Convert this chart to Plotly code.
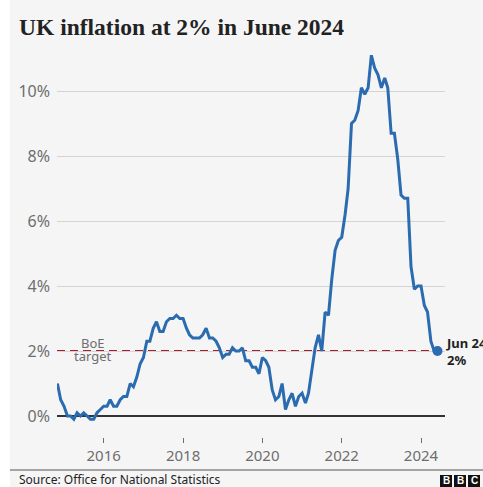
import pandas as pd
import plotly.graph_objects as go

# ---- data (UK CPI annual rate, %, monthly from Nov 2014 to Jun 2024) ----
start_month = "2014-11-01"
cpi = [
    1.0, 0.5,
    0.3, 0.0, 0.0, -0.1, 0.1, 0.0, 0.1, 0.0, -0.1, -0.1, 0.1, 0.2,
    0.3, 0.3, 0.5, 0.3, 0.3, 0.5, 0.6, 0.6, 1.0, 0.9, 1.2, 1.6,
    1.8, 2.3, 2.3, 2.7, 2.9, 2.6, 2.6, 2.9, 3.0, 3.0, 3.1, 3.0,
    3.0, 2.7, 2.5, 2.4, 2.4, 2.4, 2.5, 2.7, 2.4, 2.4, 2.3, 2.1,
    1.8, 1.9, 1.9, 2.1, 2.0, 2.0, 2.1, 1.7, 1.7, 1.5, 1.5, 1.3,
    1.8, 1.7, 1.5, 0.8, 0.5, 0.6, 1.0, 0.2, 0.5, 0.7, 0.3, 0.6,
    0.7, 0.4, 0.7, 1.5, 2.1, 2.5, 2.0, 3.2, 3.1, 4.2, 5.1, 5.4,
    5.5, 6.2, 7.0, 9.0, 9.1, 9.4, 10.1, 9.9, 10.1, 11.1, 10.7, 10.5,
    10.1, 10.4, 10.1, 8.7, 8.7, 7.9, 6.8, 6.7, 6.7, 4.6, 3.9, 4.0,
    4.0, 3.4, 3.2, 2.3, 2.0, 2.0,
]
dates = pd.date_range(start_month, periods=len(cpi), freq="MS")
target = 2.0
y_ticks = [0, 2, 4, 6, 8, 10]
y_tick_labels = ["0%", "2%", "4%", "6%", "8%", "10%"]
end_label = "Jun 24"

title = "UK inflation at 2% in June 2024"
source = "Source: Office for National Statistics"

# ---- layout geometry ----
W, H = 483, 487
L, R, T, B = 57, 38, 42, 50
PW, PH = W - L - R, H - T - B


def px(xp):
    return (xp - L) / PW


def py(yp):
    return (H - B - yp) / PH


BLUE = "#2b6cb0"
RED = "#a81e2a"
GREY = "#6e6e6e"
DARK = "#222222"
FONT = "Noto Sans"

fig = go.Figure()
fig.add_trace(go.Scatter(x=dates, y=cpi, mode="lines",
                         line=dict(color=BLUE, width=3), hoverinfo="skip"))
fig.add_trace(go.Scatter(x=[dates[-1]], y=[cpi[-1]], mode="markers",
                         marker=dict(color=BLUE, size=10), hoverinfo="skip"))

shapes = [
    # left white strip
    dict(type="rect", xref="paper", yref="paper", x0=px(0), x1=px(10),
         y0=py(H), y1=py(0), fillcolor="white", line=dict(width=0), layer="below"),
    # target line
    dict(type="line", xref="paper", yref="y", x0=0, x1=1, y0=target, y1=target,
         line=dict(color=RED, width=2.2, dash="8px,5px"), layer="below"),
    # separator
    dict(type="line", xref="paper", yref="paper", x0=px(10), x1=px(W),
         y0=py(470), y1=py(470), line=dict(color="#555555", width=1)),
]
annotations = [
    dict(text=title, xref="paper", yref="paper", x=px(17), y=py(27),
         xanchor="left", yanchor="middle", showarrow=False,
         font=dict(family="Liberation Serif", size=23.5, color=DARK, weight="bold")),
    dict(text=source, xref="paper", yref="paper", x=px(17), y=py(480),
         xanchor="left", yanchor="middle", showarrow=False,
         font=dict(family=FONT, size=12, color=DARK)),
    dict(text="BoE", xref="paper", yref="paper", x=px(93), y=py(343),
         xanchor="center", yanchor="middle", showarrow=False,
         font=dict(family=FONT, size=13, color=GREY)),
    dict(text="target", xref="paper", yref="paper", x=px(93), y=py(356),
         xanchor="center", yanchor="middle", showarrow=False,
         font=dict(family=FONT, size=13, color=GREY)),
    dict(text=f"<b>{end_label}</b><br><b>{cpi[-1]:g}%</b>", xref="x", yref="y",
         x=dates[-1], y=cpi[-1], xanchor="left", yanchor="middle", xshift=6,
         align="left", showarrow=False,
         font=dict(family=FONT, size=13, color=DARK)),
]
# BBC logo blocks
for x0, letter in zip([440, 454, 468], ["B", "B", "C"]):
    shapes.append(dict(type="rect", xref="paper", yref="paper",
                       x0=px(x0), x1=px(x0 + 12), y0=py(487), y1=py(475),
                       fillcolor="#111111", line=dict(width=0)))
    annotations.append(dict(text=f"<b>{letter}</b>", xref="paper", yref="paper",
                            x=px(x0 + 6), y=py(481), xanchor="center", yanchor="middle",
                            showarrow=False, font=dict(family="Liberation Sans", size=10,
                                                       color="white")))

fig.update_layout(
    width=W, height=H,
    margin=dict(l=L, r=R, t=T, b=B),
    paper_bgcolor="#f5f5f5", plot_bgcolor="#f5f5f5",
    showlegend=False,
    shapes=shapes, annotations=annotations,
    xaxis=dict(range=["2014-10-28", "2024-08-09"], tick0="2016-01-01", dtick="M24",
               tickformat="%Y", showgrid=False, zeroline=False, showline=False,
               ticks="outside", ticklen=5, tickcolor=GREY, tickwidth=1,
               tickfont=dict(family=FONT, size=15, color=GREY)),
    yaxis=dict(range=[-0.646, 11.508], tickvals=y_ticks, ticktext=y_tick_labels,
               showgrid=True, gridcolor="#d4d4d4", gridwidth=1,
               zeroline=True, zerolinecolor="#333333", zerolinewidth=1.5,
               showline=False, ticks="", ticklabelstandoff=6,
               tickfont=dict(family=FONT, size=16, color=GREY)),
)

fig.write_html("out.html")
